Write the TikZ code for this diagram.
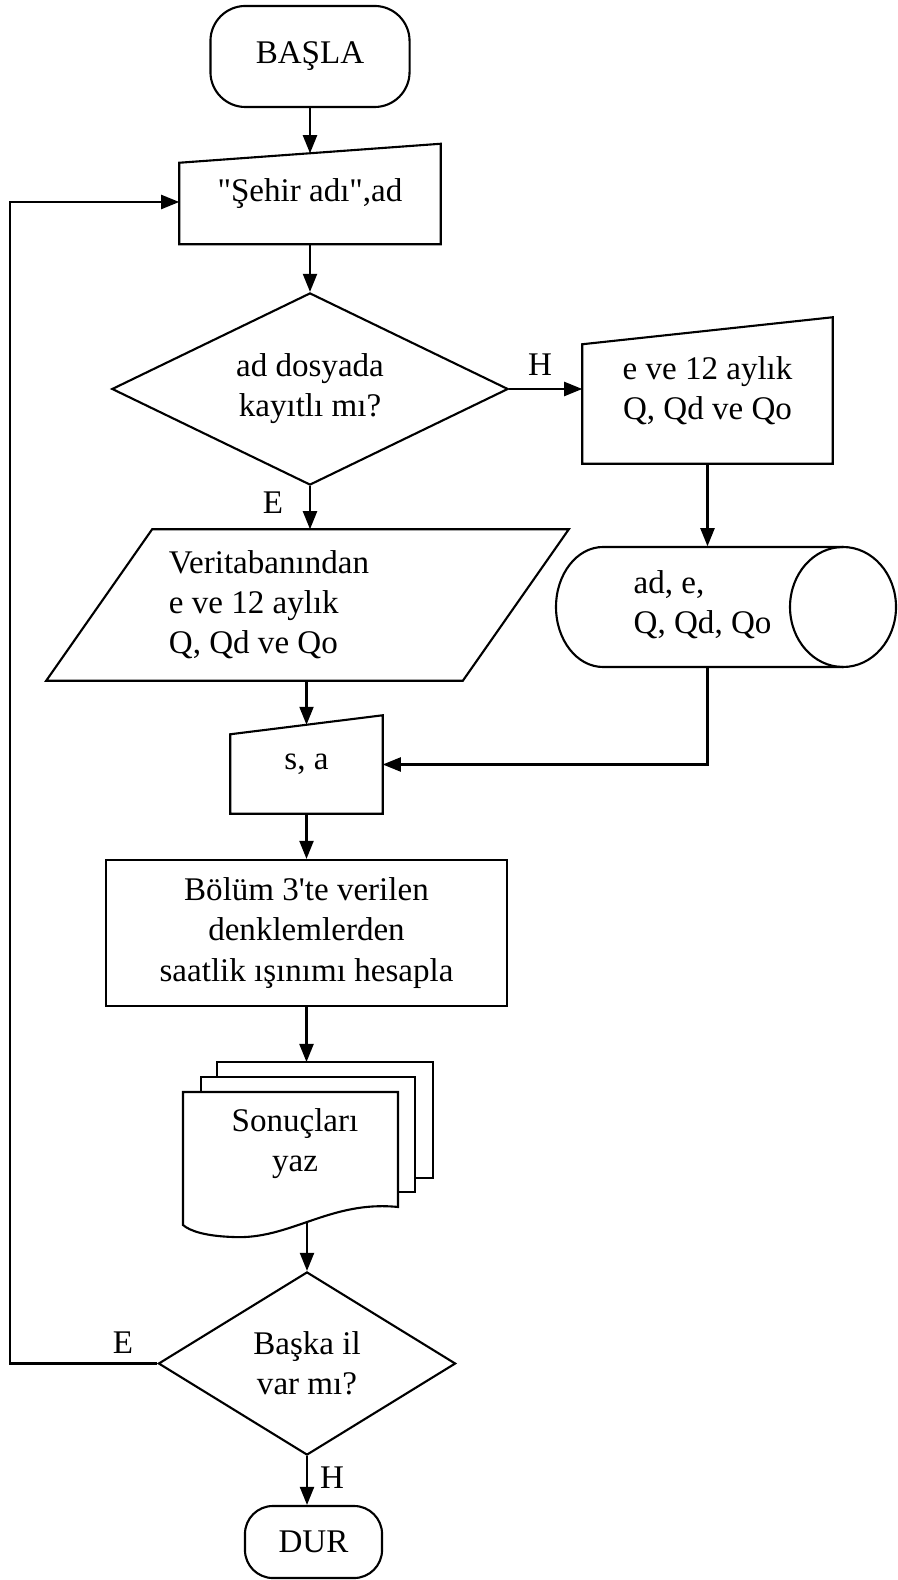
\documentclass[tikz,border=0pt]{standalone}
\usepackage{fontspec}
\setmainfont{Liberation Serif}
\usetikzlibrary{positioning,calc,shapes.geometric,arrows.meta}
\tikzstyle{chart} = [x = 0.01cm, y = -0.01cm, every node/.style={font=\fontsize{9.4}{11.4}\selectfont, inner sep=0pt}]
\tikzstyle{shapeLine} = [draw, line width=0.6pt]
\tikzstyle{terminalBox} = [shapeLine, rectangle, rounded corners=0.35cm]
\tikzstyle{processBox} = [shapeLine, rectangle, align=center]
\tikzstyle{inputBox} = [rectangle, align=center]
\tikzstyle{decisionBox} = [shapeLine, diamond, align=center]
\tikzstyle{flowArrow} = [line width=0.6pt, -{Triangle[length=1.8mm, width=1.4mm]}]
\newcommand{\manualOutline}[2]{
  \draw[shapeLine] ($(#1.north west) + (0, #2)$) -- (#1.north east) -- (#1.south east) -- (#1.south west) -- cycle;
  \coordinate (#1In) at ($(#1.north) + (0, #2 / 2)$);
}

\begin{document}
\begin{tikzpicture}[chart]
  \fill[white] (0,0) rectangle (898,1580);
  \useasboundingbox (0,0) rectangle (898,1580);

  % main column
  \node[terminalBox, minimum width=1.99cm, minimum height=1.01cm] (startNode) at (310,56.5) {BAŞLA};
  \node[inputBox, minimum width=2.6cm, minimum height=0.99cm] (cityInput) at (310,194) {\textquotedbl Şehir adı\textquotedbl,ad};
  \manualOutline{cityInput}{19}
  \node[decisionBox, shape aspect=2.06, minimum width=3.96cm, minimum height=1.92cm] (checkCity) at (310,389) {ad dosyada\\kayıtlı mı?};
  \node[inputBox, text width=2.77cm, align=flush left, minimum width=4.15cm, minimum height=1.5cm] (readData) at (307.5,605) {Veritabanından\\e ve 12 aylık\\Q, Qd ve Qo};
  \draw[shapeLine] ($(readData.north west) + (53,0)$) -- ($(readData.north east) + (53,0)$) -- ($(readData.south east) + (-53,0)$) -- ($(readData.south west) + (-53,0)$) -- cycle;
  \node[inputBox, minimum width=1.51cm, minimum height=0.97cm] (siteInput) at (306.5,764.5) {s, a};
  \manualOutline{siteInput}{19}
  \node[processBox, minimum width=4.01cm, minimum height=1.46cm] (calcBox) at (306.5,933) {Bölüm 3\textquotesingle te verilen\\denklemlerden\\saatlik ışınımı hesapla};

  % stacked result sheets
  \draw[shapeLine] (217,1077) -- (217,1062) -- (433,1062) -- (433,1178) -- (415,1178);
  \draw[shapeLine] (201,1092) -- (201,1077) -- (415,1077) -- (415,1192) -- (398,1192);
  \draw[shapeLine] (183,1092) -- (398,1092) -- (398,1207) .. controls (330,1200) and (290,1240) .. (233,1237) .. controls (205,1236) and (190,1231) .. (183,1225) -- cycle;
  \node[align=center] (printResults) at (295,1144) {Sonuçları\\yaz};
  \coordinate (printTop) at (307,1062);
  \coordinate (printBottom) at (307,1222);

  \node[decisionBox, shape aspect=1.62, minimum width=2.97cm, minimum height=1.83cm] (otherCity) at (307,1363.5) {Başka il\\var mı?};
  \node[terminalBox, rounded corners=0.28cm, minimum width=1.37cm, minimum height=0.72cm] (stopNode) at (313.5,1542) {DUR};

  % right column
  \node[inputBox, minimum width=2.49cm, minimum height=1.45cm] (manualData) at (707.5,390.5) {e ve 12 aylık\\Q, Qd ve Qo};
  \manualOutline{manualData}{27}
  \node[minimum width=3.4cm, minimum height=1.2cm] (storeData) at (726,607) {};
  \draw[shapeLine] (603,547) -- (843,547) (603,667) -- (843,667) (603,667) arc[start angle=90, end angle=270, x radius=47, y radius=60];
  \draw[shapeLine] (843,607) ellipse [x radius=53, y radius=60];
  \node[anchor=west, align=flush left] (storeText) at (633,605) {ad, e,\\Q, Qd, Qo};

  % branch labels
  \node (noLabelTop) at (540,365) {H};
  \node (yesLabelTop) at (273,503) {E};
  \node (yesLabelBottom) at (123,1343) {E};
  \node (noLabelBottom) at (332,1478) {H};
  \coordinate (loopCorner) at (10,1363.5);

  % connectors
  \draw[flowArrow] (startNode.south) -- (cityInputIn);
  \draw[flowArrow] (cityInput.south) -- (checkCity.north);
  \draw[flowArrow] (checkCity.east) -- (checkCity.east -| manualData.west);
  \draw[flowArrow] (checkCity.south) -- (checkCity.south |- readData.north);
  \draw[flowArrow] (manualData.south) -- (manualData.south |- storeData.north);
  \draw[flowArrow] (manualData.south |- storeData.south) |- (siteInput.east);
  \draw[flowArrow] (siteInputIn |- readData.south) -- (siteInputIn);
  \draw[flowArrow] (siteInput.south) -- (siteInput.south |- calcBox.north);
  \draw[flowArrow] (calcBox.south) -- (calcBox.south |- printTop);
  \draw[flowArrow] (printBottom) -- (otherCity.north);
  \draw[flowArrow] (otherCity.south) -- (otherCity.south |- stopNode.north);
  \draw[flowArrow] (otherCity.west) -- (loopCorner) |- ($(cityInput.west) + (0,8)$);
\end{tikzpicture}
\end{document}
